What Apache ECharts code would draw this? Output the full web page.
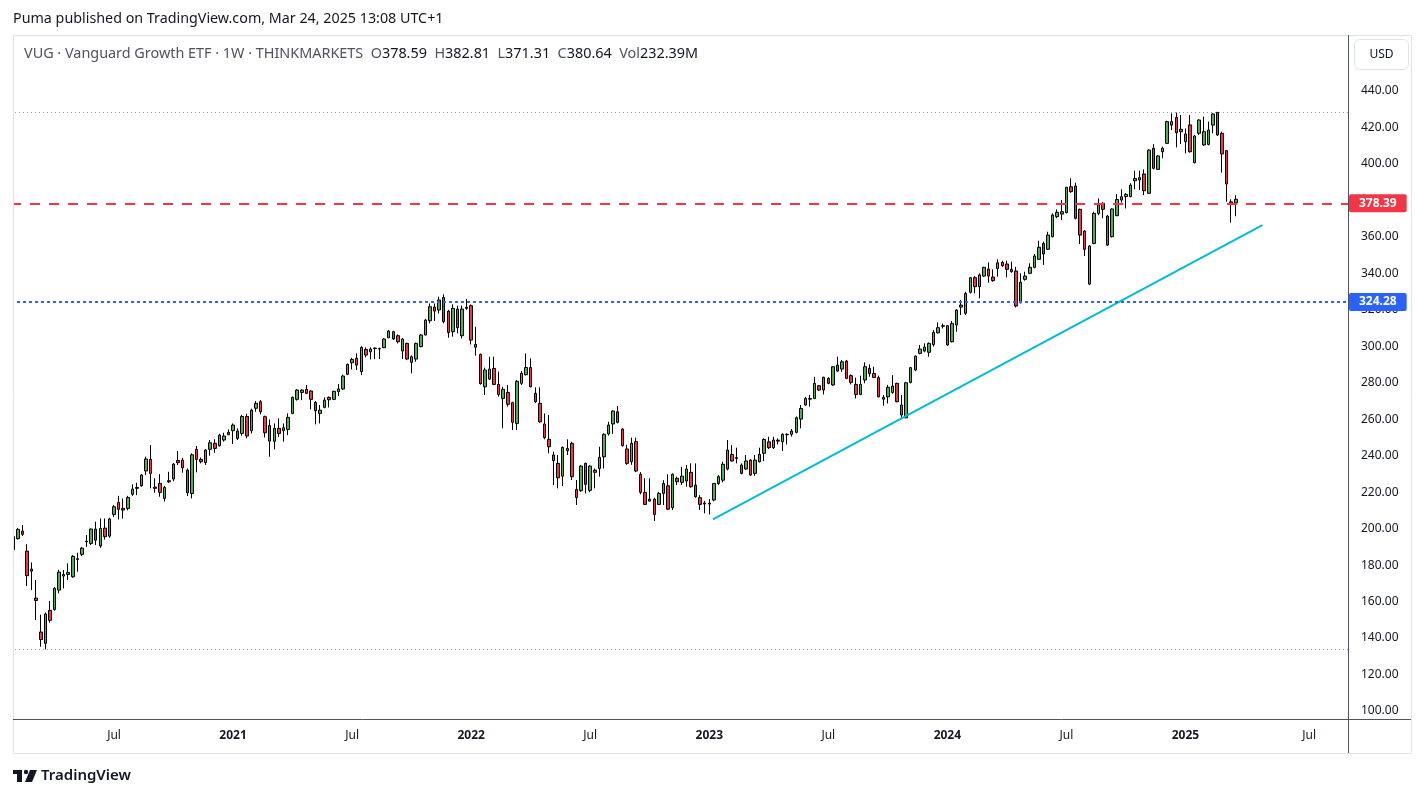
<!DOCTYPE html>
<html>
<head>
<meta charset="utf-8">
<title>VUG 1W</title>
<script src="https://cdn.jsdelivr.net/npm/echarts/dist/echarts.min.js"></script>
<style>
  html, body { margin: 0; padding: 0; background: #fff; }
  #chart { width: 1426px; height: 798px; }
</style>
</head>
<body>
<div id="chart"></div>
<script>
// weekly bars, one row per week: [open, close, low, high]
const c2020 = [
  [188.5,195.6,187.5,196.5],[194.5,199.6,194.0,200.3],[198.7,196.9,196.0,202.0],[187.7,174.2,168.5,191.5],
  [177.8,176.7,166.3,181.5],[161.9,160.6,149.9,171.8],[143.3,139.2,135.2,152.8],[137.1,153.2,133.8,154.0],
  [155.2,149.7,148.4,160.3],[155.7,167.2,155.0,168.0],[166.3,176.2,164.5,177.5],[174.9,174.0,167.2,177.3],
  [174.9,176.0,171.8,181.0],[173.6,184.8,173.0,185.5],[183.5,183.1,176.4,186.8],[185.9,189.3,185.0,190.0],
  [192.8,193.2,190.0,196.5],[191.9,199.8,191.0,200.0],[199.8,193.7,191.0,203.8],[190.5,200.1,189.5,205.6],
  [200.3,195.6,194.0,205.6],[195.9,205.3,195.0,206.0],[207.8,212.0,206.5,213.0],[214.4,210.6,205.0,218.0],
  [211.1,210.2,205.5,216.5],[211.1,217.1,210.0,218.0],[218.8,221.7,218.0,224.3],[222.1,222.6,218.4,225.2],
  [223.5,229.4,223.0,230.0],[231.6,238.2,229.4,239.5],[238.0,230.3,222.1,245.8],[222.8,222.1,219.7,227.6],
  [224.8,219.9,217.5,229.9],[216.6,222.6,214.8,223.5],[225.7,226.3,225.0,231.2],[227.2,235.4,226.0,236.0],
  [237.4,236.2,234.9,242.6],[237.6,233.4,230.7,238.9],[232.1,219.7,217.9,233.0],[219.3,240.5,216.6,241.3],
  [243.5,238.0,230.9,245.3],[238.0,236.7,235.8,239.0],[236.2,243.1,234.9,243.7],[243.5,247.1,240.0,248.6],
  [246.8,244.0,241.6,249.0],[245.5,251.3,245.0,252.0],[248.6,250.8,247.7,252.6],[252.8,251.5,251.3,254.4]
];
const c2021 = [
  [253.7,256.8,246.4,257.7],[253.5,249.5,248.6,255.0],[252.2,261.5,251.0,262.5],[261.5,250.8,249.5,263.0],
  [253.7,265.0,252.2,265.8],[266.0,268.7,264.1,270.0],[269.6,264.1,262.8,270.5],[261.4,252.6,250.0,262.0],
  [256.6,248.0,239.4,259.9],[247.9,255.0,243.5,257.7],[255.0,252.2,250.4,260.5],[253.7,255.3,247.7,257.7],
  [254.4,261.0,251.3,263.2],[263.2,272.0,262.8,272.5],[270.9,276.0,270.2,276.6],[274.7,276.0,270.5,276.5],
  [276.4,274.2,273.8,278.8],[275.5,270.9,265.4,276.0],[269.2,264.7,257.2,270.0],[263.2,265.0,257.7,267.8],
  [266.5,270.5,266.0,272.0],[272.0,270.7,266.5,272.5],[270.9,275.3,270.5,275.6],[275.1,276.6,272.7,279.3],
  [276.6,283.7,276.0,284.5],[284.6,290.1,284.2,290.5],[291.0,292.8,287.3,293.7],[293.4,289.7,287.0,296.1],
  [286.1,299.4,284.2,300.0],[298.3,295.2,293.9,299.4],[297.0,298.5,292.8,299.4],[298.8,299.0,293.0,299.4],
  [298.7,298.5,293.0,299.3],[299.2,304.0,299.0,304.5],[304.7,308.4,304.5,308.8],[308.0,304.0,303.5,308.5],
  [305.8,302.5,301.6,306.5],[297.4,304.0,293.0,304.5],[301.6,293.0,292.5,302.0],[291.2,294.3,285.2,295.0],
  [293.0,301.6,291.5,302.0],[299.8,306.2,299.5,306.8],[306.2,314.4,306.0,315.0],[314.0,321.7,312.6,323.5],
  [321.5,319.3,313.9,323.5],[319.9,325.4,318.0,327.2],[326.8,313.5,312.6,328.5],[319.3,307.5,304.7,320.0],
  [308.0,320.8,305.3,323.0],[320.4,310.2,307.1,322.3],[305.8,320.4,304.3,322.3],[321.4,320.8,320.0,325.9]
];
const c2022 = [
  [322.3,303.4,301.0,323.0],[301.0,299.5,294.9,310.7],[295.6,279.5,279.0,296.0],[277.8,287.0,273.3,288.3],
  [282.0,287.5,281.5,294.3],[287.9,279.1,278.7,294.3],[279.1,273.6,272.4,286.1],[271.4,276.4,255.0,277.8],
  [274.7,268.2,266.9,278.8],[269.1,258.3,254.1,269.6],[257.7,280.8,254.1,281.5],[279.7,285.2,278.8,286.4],
  [284.4,288.4,284.0,296.1],[288.4,277.8,277.5,293.4],[274.2,269.6,269.0,277.5],[268.7,258.6,258.0,277.5],
  [257.4,249.9,249.0,263.2],[249.0,244.9,241.3,262.3],[240.4,237.3,223.9,242.2],[235.8,227.9,222.1,240.4],
  [228.8,244.6,223.4,245.0],[244.0,242.7,240.4,249.0],[246.8,228.5,226.7,247.7],[221.5,217.1,213.0,226.7],
  [220.8,234.3,220.2,234.9],[235.8,224.3,219.3,236.2],[221.0,234.3,220.0,234.8],[232.1,230.9,222.1,233.0],
  [233.0,239.1,228.5,244.9],[239.4,251.7,233.0,252.3],[251.9,256.8,251.0,258.6],[257.4,264.5,252.0,265.0],
  [264.1,258.3,257.7,267.2],[254.6,245.5,245.0,255.0],[243.7,235.8,235.0,246.0],[236.7,246.8,235.0,249.9],
  [247.7,231.6,231.0,249.9],[229.8,219.9,218.8,231.0],[219.9,213.3,212.9,227.6],[215.1,216.2,214.8,227.6],
  [216.2,207.8,204.2,217.0],[213.3,219.3,212.9,220.2],[219.3,224.8,212.9,226.6],[223.5,210.7,210.2,229.8],
  [211.5,229.8,210.2,230.3],[227.6,225.7,223.9,228.5],[225.4,228.8,223.9,233.9],[226.1,232.7,223.0,234.9],
  [230.9,223.0,222.4,235.8],[223.9,217.5,217.0,235.8],[217.0,213.3,210.2,218.4],[214.0,213.5,208.4,215.2]
];
const c2023 = [
  [213.5,214.0,207.8,216.2],[215.7,224.8,215.0,225.0],[224.8,228.5,223.9,229.4],[226.6,235.3,225.4,236.7],
  [232.7,243.1,232.0,248.6],[240.7,237.1,236.7,245.8],[238.5,239.0,235.8,244.4],[234.9,230.3,229.8,235.8],
  [232.7,237.1,232.2,240.4],[237.6,229.4,229.0,238.0],[230.3,237.6,229.0,240.4],[236.7,240.7,236.3,244.4],
  [241.3,248.9,237.0,249.5],[247.6,244.4,243.7,250.4],[244.4,248.6,243.7,250.4],[248.5,248.0,246.2,249.5],
  [247.7,251.7,242.6,252.3],[251.5,251.7,246.2,252.3],[251.7,253.5,250.5,254.7],[252.8,260.8,252.3,261.5],
  [260.1,265.9,255.0,267.8],[267.8,271.4,267.4,272.3],[271.0,271.4,266.9,273.3],[271.4,279.7,271.0,283.3],
  [278.4,276.0,275.5,278.8],[276.0,283.0,273.6,283.3],[282.4,279.7,279.2,283.0],[278.8,288.8,278.3,289.0],
  [289.7,286.4,286.0,294.3],[287.5,291.5,286.0,292.5],[291.9,282.4,282.0,292.5],[283.9,280.2,279.1,284.6],
  [279.1,273.6,271.4,282.8],[273.6,279.1,273.3,283.9],[281.5,288.8,279.7,291.2],[287.9,285.1,283.3,290.1],
  [285.1,282.9,282.7,288.8],[282.8,272.3,272.0,283.9],[271.0,272.0,267.4,273.3],[272.3,277.5,268.7,278.8],
  [274.7,278.2,274.0,284.2],[279.7,269.6,269.3,280.0],[267.8,262.3,260.1,273.3],[260.8,280.0,260.5,280.5],
  [280.2,288.3,279.6,288.6],[287.0,294.6,286.4,295.0],[296.1,298.5,295.6,300.7],[297.4,299.6,296.7,301.6],
  [296.7,301.6,294.3,302.1],[301.0,307.6,299.8,308.9],[307.4,310.2,307.0,313.1],[311.0,311.3,309.8,312.5]
];
const c2024 = [
  [311.3,300.7,300.3,311.7],[302.5,312.5,302.1,313.9],[311.7,319.9,308.0,320.4],[321.5,322.6,317.1,325.4],
  [318.1,329.0,317.1,329.9],[329.6,337.6,329.0,338.0],[337.6,332.7,329.0,338.5],[332.7,339.1,326.3,340.0],
  [338.5,343.3,338.0,343.6],[342.4,338.5,334.9,346.0],[338.0,336.0,335.4,342.2],[342.7,345.8,338.2,347.7],
  [346.0,344.2,343.6,346.9],[345.1,342.2,337.8,346.9],[342.2,340.9,340.4,346.4],[341.3,322.1,321.3,343.6],
  [323.9,335.1,323.5,340.0],[336.7,338.5,336.0,340.9],[340.0,343.3,339.6,345.5],[343.3,349.5,342.7,350.6],
  [347.7,354.3,347.3,357.9],[356.4,350.6,344.6,357.4],[353.2,361.0,352.8,362.8],[360.1,372.0,359.7,372.9],
  [371.1,373.5,370.2,375.1],[372.5,373.8,369.2,380.2],[373.3,387.2,372.9,387.5],[387.5,384.8,384.2,392.1],
  [387.9,370.2,369.6,389.7],[375.1,361.0,356.1,375.5],[363.2,353.2,349.5,363.8],[334.1,355.0,333.6,355.5],
  [356.4,372.9,356.0,373.8],[372.9,377.5,371.9,381.1],[378.4,375.1,370.2,379.0],[371.4,355.5,355.0,372.0],
  [360.1,375.3,359.7,375.6],[371.6,380.5,371.4,383.5],[380.2,382.0,378.8,386.1],[382.1,383.3,375.6,384.0],
  [382.1,388.4,381.7,389.4],[390.8,392.0,386.1,396.3],[391.2,392.5,385.7,396.3],[394.5,385.3,382.9,397.0],
  [383.9,407.6,383.5,408.0],[408.6,397.6,397.0,410.9],[397.0,404.4,396.7,404.9],[406.7,408.6,403.1,409.5],
  [411.3,423.2,410.9,423.7],[421.3,423.2,418.6,427.7],[425.5,417.1,409.1,428.2],[417.7,419.0,410.9,426.8],
  [412.2,416.4,405.8,419.5]
];
const c2025 = [
  [421.4,406.7,406.2,426.8],[400.7,415.3,400.3,415.9],[416.8,424.1,415.9,424.5],[410.4,417.7,409.8,425.9],
  [410.7,418.6,410.2,423.2],[421.3,427.4,416.8,427.8],[428.3,415.9,415.3,428.4],[416.8,405.5,395.2,417.7],
  [407.3,389.0,379.3,407.7],[379.2,378.4,367.8,380.6],[378.59,380.64,371.31,382.81]
];
const lastVolume = '232.39M';

// horizontal levels and the drawn trend line (x = week index)
const highLevel = 428.4;
const lowLevel = 133.8;
const redLevel = 378.39;
const blueLevel = 324.28;
const trendX = [152.8, 272.8];
const trendY = [205.1, 366.45];

// time axis tick labels
const tickDates = ['2020-07-06','2021-01-04','2021-07-05','2022-01-03','2022-07-04','2023-01-02',
                   '2023-07-03','2024-01-01','2024-07-01','2024-12-30','2025-07-07'];
const tickLabels = ['Jul','2021','Jul','2022','Jul','2023','Jul','2024','Jul','2025','Jul'];

const candles = [].concat(c2020, c2021, c2022, c2023, c2024, c2025);
const slots = 292; // bars + empty space on the right
const weeks = [];
for (let i = 0; i < slots; i++) {
  weeks.push(new Date(Date.UTC(2020, 1, 3) + i * 7 * 86400000).toISOString().slice(0, 10));
}

const last = candles[candles.length - 1];
const font = 'Noto Sans';

const chart = echarts.init(document.getElementById('chart'));
const option = {
  animation: false,
  backgroundColor: '#fff',
  textStyle: { fontFamily: font },
  grid: { left: 11, right: 78, top: 91, bottom: 87, outerBoundsMode: 'none' },
  xAxis: [{
    type: 'category',
    data: weeks,
    boundaryGap: true,
    axisLine: { show: false },
    axisTick: { show: false },
    splitLine: { show: false },
    axisLabel: {
      interval: (idx, val) => tickDates.includes(val),
      margin: 19,
      color: '#131722',
      fontSize: 12,
      formatter: val => {
        const t = tickLabels[tickDates.indexOf(val)];
        return /^\d{4}$/.test(t) ? '{y|' + t + '}' : t;
      },
      rich: { y: { fontWeight: 'bold', fontSize: 12, color: '#131722' } }
    }
  }, {
    type: 'value',
    show: false,
    min: -0.5,
    max: slots - 0.5
  }],
  yAxis: {
    type: 'value',
    position: 'right',
    min: 100,
    max: 440,
    interval: 20,
    axisLine: { show: false },
    axisTick: { show: false },
    splitLine: { show: false },
    axisLabel: { margin: 13, color: '#131722', fontSize: 12, formatter: v => v.toFixed(2) }
  },
  series: [{
    type: 'candlestick',
    data: candles,
    barWidth: 3,
    itemStyle: {
      color: '#4caf50', color0: '#f23645',
      borderColor: '#000', borderColor0: '#000', borderWidth: 1
    },
    markLine: {
      symbol: 'none',
      silent: true,
      data: [
        { yAxis: highLevel, lineStyle: { color: '#9598a1', type: [1, 3], width: 1 }, label: { show: false } },
        { yAxis: lowLevel, lineStyle: { color: '#9598a1', type: [1, 3], width: 1 }, label: { show: false } },
        { yAxis: redLevel, lineStyle: { color: '#f23645', type: [10, 9], width: 2 },
          label: { show: true, position: 'end', distance: 1, formatter: redLevel.toFixed(2),
                   backgroundColor: '#f23645', color: '#fff', fontSize: 12, fontWeight: 'bold',
                   padding: [3, 10, 3, 10], borderRadius: 2 } },
        { yAxis: blueLevel, lineStyle: { color: '#2962ff', type: [3, 3], width: 2 },
          label: { show: true, position: 'end', distance: 1, formatter: blueLevel.toFixed(2),
                   backgroundColor: '#2962ff', color: '#fff', fontSize: 12, fontWeight: 'bold',
                   padding: [3, 10, 3, 10], borderRadius: 2 } }
      ]
    }
  }, {
    type: 'line',
    xAxisIndex: 1,
    data: [[trendX[0], trendY[0]], [trendX[1], trendY[1]]],
    showSymbol: false,
    silent: true,
    lineStyle: { color: '#00bcd4', width: 2 }
  }],
  graphic: [
    { type: 'rect', z: 100, shape: { x: 0, y: 35, width: 13, height: 718 }, style: { fill: '#fff' } },
    { type: 'rect', z: 100, shape: { x: 13.5, y: 35.5, width: 1398, height: 718 },
      style: { fill: 'none', stroke: '#e0e3eb', lineWidth: 1 } },
    { type: 'line', z: 100, shape: { x1: 1348.5, y1: 35, x2: 1348.5, y2: 753 },
      style: { stroke: '#50535e', lineWidth: 1 } },
    { type: 'line', z: 100, shape: { x1: 13, y1: 719.5, x2: 1411, y2: 719.5 },
      style: { stroke: '#50535e', lineWidth: 1 } },
    { type: 'rect', z: 100, shape: { x: 1354.5, y: 39.5, width: 54, height: 30, r: 5 },
      style: { fill: '#fff', stroke: '#e0e3eb', lineWidth: 1 } },
    { type: 'text', z: 101, style: { x: 1381.5, y: 54.5, text: 'USD', align: 'center', verticalAlign: 'middle',
      fill: '#131722', font: '12px "Noto Sans"' } },
    { type: 'text', z: 101, style: { x: 13, y: 19, text: 'Puma published on TradingView.com, Mar 24, 2025 13:08 UTC+1',
      verticalAlign: 'middle', fill: '#131722', font: '14.3px "Noto Sans"' } },
    { type: 'text', z: 101, style: {
      x: 24, y: 54, verticalAlign: 'middle', font: '14.4px "Noto Sans"',
      text: '{n|VUG · Vanguard Growth ETF · 1W · THINKMARKETS}  {k|O}{v|' + last[0].toFixed(2) +
            '}  {k|H}{v|' + last[3].toFixed(2) + '}  {k|L}{v|' + last[2].toFixed(2) +
            '}  {k|C}{v|' + last[1].toFixed(2) + '}  {k|Vol}{v|' + lastVolume + '}',
      rich: {
        n: { fill: '#50535e', fontSize: 14.4, fontFamily: font },
        k: { fill: '#50535e', fontSize: 14.4, fontFamily: font },
        v: { fill: '#131722', fontSize: 14.4, fontFamily: font }
      } } },
    // TradingView logo
    { type: 'rect', z: 101, shape: { x: 13, y: 770, width: 9, height: 4 }, style: { fill: '#131722' } },
    { type: 'rect', z: 101, shape: { x: 17, y: 770, width: 5, height: 12 }, style: { fill: '#131722' } },
    { type: 'circle', z: 101, shape: { cx: 26, cy: 772, r: 2.2 }, style: { fill: '#131722' } },
    { type: 'polygon', z: 101, shape: { points: [[30, 770], [37, 770], [32, 782], [25, 782]] }, style: { fill: '#131722' } },
    { type: 'text', z: 101, style: { x: 41, y: 776, text: 'TradingView', verticalAlign: 'middle',
      fill: '#131722', font: '600 15px "Noto Sans"' } }
  ]
};
chart.setOption(option);
</script>
</body>
</html>
